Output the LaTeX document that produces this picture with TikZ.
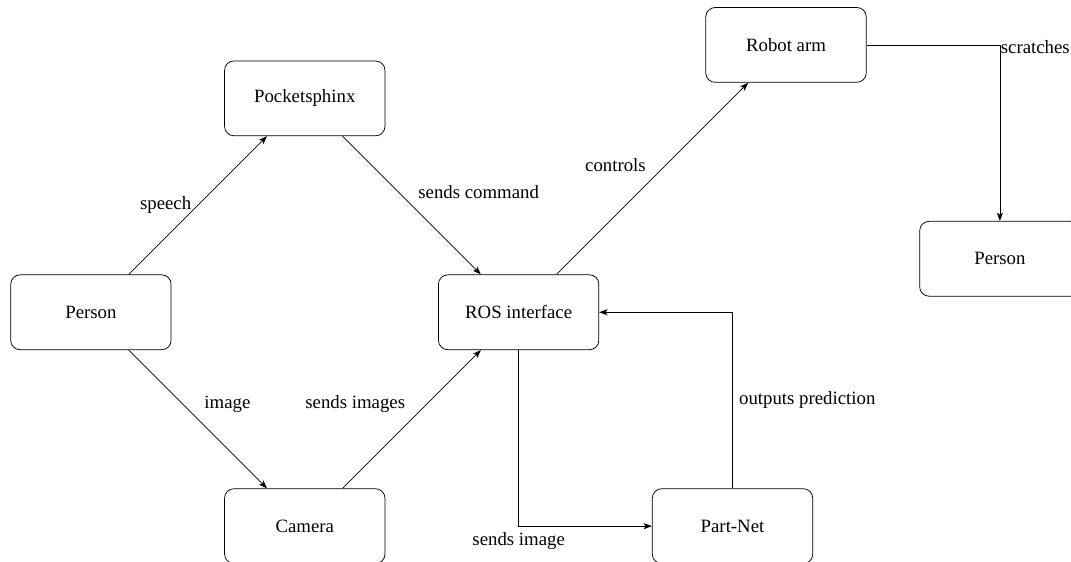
\documentclass[tikz,border=0pt]{standalone}
\usepackage{fontspec}
\setmainfont{Liberation Serif}
\usetikzlibrary{arrows.meta}
\begin{document}
\begin{tikzpicture}[
  block/.style={draw, rounded corners=5pt, minimum width=3cm, minimum height=1.4cm, align=center, font=\rmfamily},
  conn/.style={-{Stealth[length=4.4pt,width=3.2pt,inset=1pt]}, line width=0.4pt},
  lbl/.style={font=\rmfamily}
]
\useasboundingbox (-9.70,-4.67) rectangle (10.33,5.84);
\clip (-9.70,-4.67) rectangle (10.33,5.84);
\node[block] (person) at (-8,0) {Person};
\node[block] (pocket) at (-4,4) {Pocketsphinx};
\node[block] (camera) at (-4,-4) {Camera};
\node[block] (ros) at (0,0) {ROS interface};
\node[block] (arm) at (5,5) {Robot arm};
\node[block] (person2) at (9,1) {Person};
\node[block] (partnet) at (4,-4) {Part-Net};

\draw[conn] (person) -- node[lbl, left] {speech} (pocket);
\draw[conn] (person) -- node[lbl, above right] {image} (camera);
\draw[conn] (pocket) -- node[lbl, above right] {sends command} (ros);
\draw[conn] (camera) -- node[lbl, above left] {sends images} (ros);
\draw[conn] (ros) -- node[lbl, above left] {controls} (arm);
\draw[conn] (ros) |- node[lbl, pos=0.5, below] {sends image} (partnet);
\draw[conn] (partnet) |- node[lbl, pos=0.25, right] {outputs prediction} (ros);
\draw[conn] (arm) -| node[lbl, pos=0.5, right, yshift=-1pt, xshift=-3pt] {scratches} (person2);
\end{tikzpicture}
\end{document}
